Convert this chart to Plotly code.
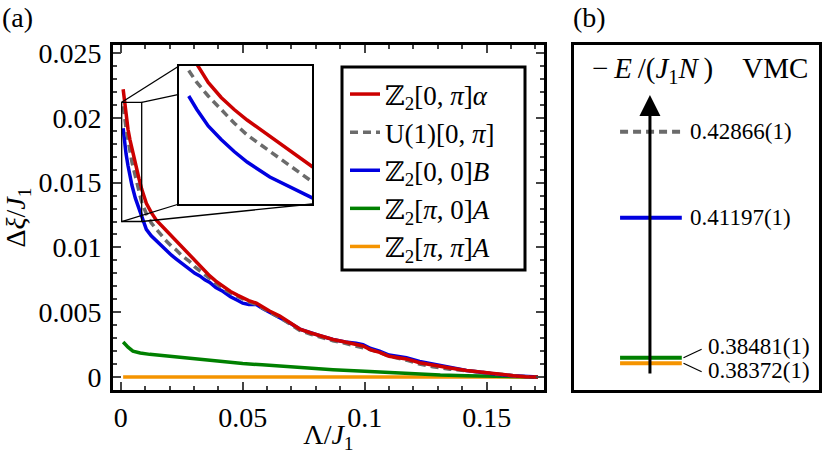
"""Gap vs Lambda (a) and VMC energy levels (b)."""

import plotly.graph_objects as go

# ---- data -----------------------------------------------------------------
lam = [0.001, 0.0015, 0.0022, 0.003, 0.0038, 0.0046, 0.006, 0.0075, 0.0086,
       0.0105, 0.0125, 0.0146, 0.0167, 0.0187, 0.0208, 0.0228, 0.0255, 0.0283,
       0.0304, 0.0324, 0.0345, 0.0365, 0.039, 0.042, 0.045, 0.048, 0.05,
       0.0525, 0.0556, 0.058, 0.061, 0.0652, 0.069, 0.0734, 0.078, 0.0816,
       0.087, 0.092, 0.0965, 0.0993, 0.1025, 0.1061, 0.11, 0.1171, 0.1225,
       0.128, 0.135, 0.1417, 0.146, 0.15, 0.155, 0.161, 0.166, 0.171]

gap_z2_0pi_alpha = [0.0222, 0.0213, 0.0201, 0.0191, 0.0183, 0.0176, 0.0165,
                    0.0153, 0.0145, 0.0134, 0.0127, 0.0121, 0.0117, 0.0113,
                    0.0109, 0.0105, 0.0099, 0.0094, 0.0090, 0.0086, 0.0082,
                    0.0078, 0.0074, 0.0070, 0.0066, 0.0063, 0.0061, 0.0059,
                    0.0057, 0.0054, 0.0051, 0.0047, 0.0042, 0.0037, 0.0034,
                    0.0032, 0.0029, 0.0027, 0.0025, 0.0024, 0.0021, 0.0019,
                    0.0016, 0.0014, 0.0011, 0.0009, 0.0007, 0.0005, 0.0004,
                    0.0003, 0.0002, 0.0001, 0.00003, 0.0]

gap_u1_0pi = [0.0209, 0.0201, 0.0192, 0.0183, 0.0174, 0.0166, 0.0155, 0.0143,
              0.0135, 0.0126, 0.0119, 0.0114, 0.0109, 0.0105, 0.0101, 0.0098,
              0.0093, 0.0089, 0.0085, 0.0082, 0.0079, 0.0076, 0.0072, 0.0068,
              0.0065, 0.0062, 0.0060, 0.0058, 0.0056, 0.0053, 0.0050, 0.0046,
              0.0041, 0.0036, 0.0033, 0.0031, 0.0028, 0.0026, 0.0024, 0.0023,
              0.0021, 0.0019, 0.0016, 0.0013, 0.0010, 0.0008, 0.0006, 0.0005,
              0.0004, 0.0003, 0.0002, 0.0001, 0.00003, 0.0]

gap_z2_00_b = [0.0192, 0.0183, 0.0172, 0.0163, 0.0155, 0.0148, 0.0138, 0.0130,
               0.0124, 0.0114, 0.0109, 0.0105, 0.0101, 0.0098, 0.0094, 0.0091,
               0.0087, 0.0083, 0.0080, 0.0078, 0.0075, 0.0073, 0.0069, 0.0066,
               0.0062, 0.0059, 0.0057, 0.0056, 0.0056, 0.0053, 0.0050, 0.0046,
               0.0042, 0.0037, 0.0034, 0.0032, 0.0029, 0.0027, 0.0026, 0.0025,
               0.0022, 0.0020, 0.0017, 0.0015, 0.0012, 0.0010, 0.0007, 0.0005,
               0.0004, 0.0003, 0.0002, 0.0001, 0.00003, 0.0]

lam_green = [0.001, 0.003, 0.005, 0.008, 0.0119, 0.018, 0.0255, 0.032, 0.0392,
             0.05, 0.058, 0.0665, 0.077, 0.087, 0.1, 0.11, 0.121, 0.131,
             0.1417, 0.15, 0.16, 0.171]
gap_z2_pi0_a = [0.0027, 0.0023, 0.0020, 0.00185, 0.00175, 0.00163, 0.0015,
                0.00135, 0.0012, 0.00105, 0.00094, 0.00082, 0.00068, 0.00056,
                0.00044, 0.00033, 0.00023, 0.00015, 0.0001, 0.00006, 0.00003,
                0.0]

lam_orange = [0.001, 0.171]
gap_z2_pipi_a = [0.0, 0.0]

series_names = ["ℤ<sub>2</sub>[0, <i>π</i>]<i>α</i>",
                "U(1)[0, <i>π</i>]",
                "ℤ<sub>2</sub>[0, 0]<i>B</i>",
                "ℤ<sub>2</sub>[<i>π</i>, 0]<i>A</i>",
                "ℤ<sub>2</sub>[<i>π</i>, <i>π</i>]<i>A</i>"]

# panel (b): VMC energies -E/(J1 N), same order as series
vmc_energy = [0.42866, 0.41197, 0.38481, 0.38372]
vmc_labels = ["0.42866(1)", "0.41197(1)", "0.38481(1)", "0.38372(1)"]

# ---- styling --------------------------------------------------------------
FONT = "Liberation Serif, DejaVu Serif, serif"
RED, GRAY, BLUE, GREEN, ORANGE = "#cc0000", "#6b6b6b", "#0000e0", "#008000", "#f59400"
LW = 3.5
DASH = "8px,5px"

W, H = 822, 454
main_dx = [113 / W, 544 / W]
main_dy = [64 / H, 409 / H]
inset_dx = [179 / W, 312 / W]
inset_dy = [250 / H, 388 / H]
b_dx = [574 / W, 819 / W]
legend_box = [342 / W, 525 / W, 1 - 270 / H, 1 - 67 / H]

x_range = [-0.00316, 0.1735]
y_range = [-0.001, 0.02562]
ix_range = [0.0004, 0.0086]
iy_range = [0.0120, 0.0212]
b_xrange = [0, 1]
b_yrange = [0.37854, 0.44548]

fig = go.Figure()

curves = [
    (lam_orange, gap_z2_pipi_a, ORANGE, None, 5),
    (lam_green, gap_z2_pi0_a, GREEN, None, 4),
    (lam, gap_z2_00_b, BLUE, None, 3),
    (lam, gap_u1_0pi, GRAY, DASH, 2),
    (lam, gap_z2_0pi_alpha, RED, None, 1),
]
for xs, ys, col, dash, rank in curves:
    fig.add_trace(go.Scatter(
        x=xs, y=ys, mode="lines", name=series_names[rank - 1],
        line=dict(color=col, width=LW, dash=dash), legendrank=rank,
        xaxis="x", yaxis="y"))

# inset (zoom of the small-Lambda region)
for xs, ys, col, dash, rank in curves[2:]:
    fig.add_trace(go.Scatter(
        x=xs, y=ys, mode="lines", showlegend=False,
        line=dict(color=col, width=LW, dash=dash),
        xaxis="x2", yaxis="y2"))

# panel (b) levels
b_colors = [GRAY, BLUE, GREEN, ORANGE]
b_dashes = [DASH, None, None, None]
lev_x = [0.188, 0.44]
for e, col, dash in zip(vmc_energy, b_colors, b_dashes):
    fig.add_trace(go.Scatter(
        x=lev_x, y=[e, e], mode="lines", showlegend=False,
        line=dict(color=col, width=4, dash=dash),
        xaxis="x3", yaxis="y3"))

# connectors for the two close-lying levels
conn_dy = [0.00163, -0.00163]
for e, dy in zip(vmc_energy[2:], conn_dy):
    fig.add_trace(go.Scatter(
        x=[0.447, 0.521], y=[e, e + dy], mode="lines", showlegend=False,
        line=dict(color="black", width=1.2), xaxis="x3", yaxis="y3"))

annotations = []
label_dy = [0.0, 0.0, 0.00213, -0.0013]
label_x = [0.465, 0.465, 0.537, 0.537]
for e, txt, dy, lx in zip(vmc_energy, vmc_labels, label_dy, label_x):
    annotations.append(dict(
        x=lx, y=e + dy, xref="x3", yref="y3", text=txt, showarrow=False,
        xanchor="left", yanchor="middle", font=dict(size=23)))

# vertical energy arrow
annotations.append(dict(
    x=0.31, y=0.43578, ax=0.31, ay=0.38145, xref="x3", yref="y3",
    axref="x3", ayref="y3", text="", showarrow=True, arrowhead=2,
    arrowsize=1.4, arrowwidth=3, arrowcolor="black"))

TS = "\u2009"
annotations.append(dict(
    x=0.514, y=1 - 70 / H, xref="x3 domain", yref="paper",
    text=("\u2212" + TS + "<i>E</i>" + TS + "/(<i>J</i><sub>1</sub>"
          + "<i>N</i>" + TS + ")" + "\u00a0" * 4 + "VMC"),
    showarrow=False, xanchor="center", yanchor="middle", font=dict(size=29)))

annotations += [
    dict(x=0.0, y=1.0, xref="paper", yref="paper", text="(a)",
         showarrow=False, xanchor="left", yanchor="top", font=dict(size=28)),
    dict(x=571 / W, y=1.0, xref="paper", yref="paper", text="(b)",
         showarrow=False, xanchor="left", yanchor="top", font=dict(size=28)),
]

# zoom box and connector lines from it to the inset frame
def px_to_x(p):
    return x_range[0] + (p - main_dx[0]) / (main_dx[1] - main_dx[0]) * (x_range[1] - x_range[0])


def py_to_y(p):
    return y_range[0] + (p - main_dy[0]) / (main_dy[1] - main_dy[0]) * (y_range[1] - y_range[0])


bx0, bx1 = px_to_x(inset_dx[0]), px_to_x(inset_dx[1])
by0, by1 = py_to_y(inset_dy[0]), py_to_y(inset_dy[1])
sx0, sx1 = ix_range
sy0, sy1 = iy_range
# top-right connector is hidden behind the inset; keep only the part left of it
t = (bx0 - sx1) / (bx1 - sx1)
tr_y = sy1 + t * (by1 - sy1)

thin = dict(color="black", width=1.3)
shapes = [
    dict(type="rect", xref="x", yref="y", x0=sx0, x1=sx1, y0=sy0, y1=sy1, line=thin),
    dict(type="line", xref="x", yref="y", x0=sx0, y0=sy1, x1=bx0, y1=by1, line=thin),
    dict(type="line", xref="x", yref="y", x0=sx1, y0=sy1, x1=bx0, y1=tr_y, line=thin),
    dict(type="line", xref="x", yref="y", x0=sx0, y0=sy0, x1=bx0, y1=by0, line=thin),
    dict(type="line", xref="x", yref="y", x0=sx1, y0=sy0, x1=bx1, y1=by0, line=thin),
    # legend frame (plotly sizes the legend box to its text, which is narrower)
    dict(type="rect", xref="paper", yref="paper", x0=legend_box[0], x1=legend_box[1],
         y0=legend_box[2], y1=legend_box[3], fillcolor="white",
         line=dict(color="black", width=3), layer="above"),
]

frame = dict(showline=True, linewidth=3, linecolor="black", mirror=True,
             showgrid=False, zeroline=False)

fig.update_layout(
    width=W, height=H,
    margin=dict(l=0, r=0, t=0, b=0),
    paper_bgcolor="white", plot_bgcolor="white",
    font=dict(family=FONT, size=26, color="black"),
    xaxis=dict(
        **frame, domain=main_dx, range=x_range, anchor="y",
        dtick=0.05, tick0=0, ticks="inside", ticklen=8, tickwidth=2,
        minor=dict(dtick=0.01, ticks="inside", ticklen=4, tickwidth=2),
        tickfont=dict(size=28), automargin=False,
        title=dict(text="Λ/<i>J</i><sub>1</sub>", font=dict(size=28), standoff=4)),
    yaxis=dict(
        **frame, domain=main_dy, range=y_range, anchor="x",
        dtick=0.005, tick0=0, ticks="inside", ticklen=8, tickwidth=2,
        minor=dict(dtick=0.001, ticks="inside", ticklen=4, tickwidth=2),
        tickfont=dict(size=28), automargin=False, ticklabelstandoff=3,
        title=dict(text="Δ<i>ξ</i>/<i>J</i><sub>1</sub>", font=dict(size=28), standoff=14)),
    xaxis2=dict(showline=True, linewidth=1.5, linecolor="black", mirror=True,
                showgrid=False, zeroline=False, showticklabels=False, ticks="",
                domain=inset_dx, range=ix_range, anchor="y2"),
    yaxis2=dict(showline=True, linewidth=1.5, linecolor="black", mirror=True,
                showgrid=False, zeroline=False, showticklabels=False, ticks="",
                domain=inset_dy, range=iy_range, anchor="x2"),
    xaxis3=dict(**frame, domain=b_dx, range=b_xrange, anchor="y3",
                showticklabels=False, ticks=""),
    yaxis3=dict(**frame, domain=main_dy, range=b_yrange, anchor="x3",
                showticklabels=False, ticks=""),
    legend=dict(x=legend_box[0], y=legend_box[3], xanchor="left", yanchor="top",
                bgcolor="rgba(0,0,0,0)", bordercolor="rgba(0,0,0,0)",
                borderwidth=3, font=dict(size=27), tracegroupgap=0),
    annotations=annotations,
    shapes=shapes,
)

fig.layout.xaxis.mirror = "allticks"
fig.layout.yaxis.mirror = "allticks"

# page body has a default 8px margin; drop it so the figure sits at the corner
fig.write_html("out.html", config={"displayModeBar": False},
               post_script="document.body.style.margin='0';")
